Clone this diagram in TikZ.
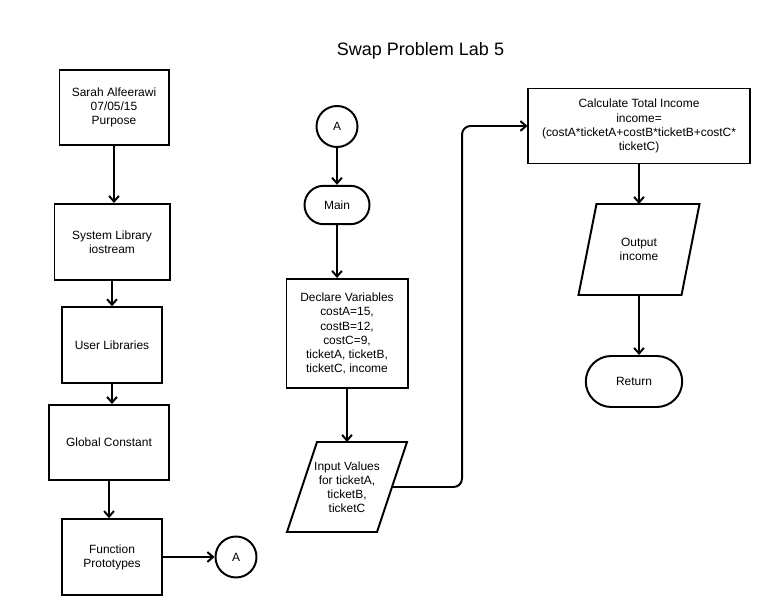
\documentclass[tikz,border=0pt]{standalone}
\usepackage{fontspec}
\setmainfont{Liberation Sans}
\usetikzlibrary{shapes.misc, arrows.meta, calc}
\tikzset{%
  proc/.style = {rectangle, draw, align=center, inner sep=2pt},
  io/.style = {rectangle, align=center, inner sep=1pt, outer sep=0pt},
  term/.style = {rounded rectangle, draw, inner sep=2pt},
  conn/.style = {circle, draw, minimum size=1.025cm, inner sep=0pt},
  flow/.style = {draw, -{Straight Barb[length=4pt,width=7pt]}},
  title/.style = {font=\fontsize{12.8}{15}\selectfont}
  }

\begin{document}
\begin{tikzpicture}[x=0.025cm, y=-0.025cm, line width=1.4pt,
    every node/.style={font=\fontsize{8.5}{10}\selectfont}]
    \useasboundingbox[fill=white] (0,0) rectangle (774,615);

    \node (head)    [title] at (420.5,51) {Swap Problem Lab 5};

    % left column
    \node (purpose) [proc, minimum width=2.725cm, minimum height=1.875cm]
          at (114,107.5) {Sarah Alfeerawi\\07/05/15\\Purpose};
    \node (syslib)  [proc, minimum width=2.875cm, minimum height=1.9cm]
          at (112,242) {System Library\\iostream};
    \node (userlib) [proc, minimum width=2.515cm, minimum height=1.885cm]
          at (112,345) {User Libraries};
    \node (global)  [proc, minimum width=3cm, minimum height=1.875cm]
          at (109,442.5) {Global Constant};
    \node (proto)   [proc, minimum width=2.515cm, minimum height=1.89cm]
          at (112,557) {Function\\Prototypes};
    \node (conOut)  [conn] at (236,557) {A};

    % middle column
    \node (conIn)   [conn] at (337,126.5) {A};
    \node (main)    [term, minimum width=1.765cm, minimum height=0.96cm]
          at (337,205) {Main};
    \node (declare) [proc, minimum width=3.025cm, minimum height=2.725cm]
          at (347,333.5) {Declare Variables\\costA=15,\\costB=12,\\costC=9,\\ticketA, ticketB,\\ticketC, income};
    \node (input)   [io, minimum width=2.25cm, minimum height=2.25cm]
          at (347,487) {Input Values\\for ticketA,\\ticketB,\\ticketC};

    % right column
    \node (calc)    [proc, minimum width=5.525cm, minimum height=1.875cm]
          at (639,126) {Calculate Total Income\\income=\\(costA*ticketA+costB*ticketB+costC*\\ticketC)};
    \node (output)  [io, minimum width=2.575cm, minimum height=2.275cm]
          at (639,249.5) {Output\\income};
    \node (ret)     [term, minimum width=2.55cm, minimum height=1.275cm]
          at (634,381.5) {Return};

    % parallelogram outlines of the i/o nodes
    \draw ($(input.south west)+(-15,0)$) -- ($(input.north west)+(15,0)$)
       -- ($(input.north east)+(15,0)$) -- ($(input.south east)+(-15,0)$) -- cycle;
    \draw ($(output.south west)+(-9,0)$) -- ($(output.north west)+(9,0)$)
       -- ($(output.north east)+(9,0)$) -- ($(output.south east)+(-9,0)$) -- cycle;

    \path (purpose.south) edge [flow] (purpose.south |- syslib.north)
          (syslib.south)  edge [flow] (syslib.south |- userlib.north)
          (userlib.south) edge [flow] (userlib.south |- global.north)
          (global.south)  edge [flow] (global.south |- proto.north)
          (proto.east)    edge [flow] (conOut.west)
          (conIn)         edge [flow] (main)
          (main.south)    edge [flow] (main.south |- declare.north)
          (declare)       edge [flow] (input)
          (calc.south)    edge [flow] (calc.south |- output.north)
          (output.south)  edge [flow] (output.south |- ret.north);

    \draw[flow, rounded corners=6pt] (input.east) -- ++(70,0) |- (calc.west);
\end{tikzpicture}
\end{document}
